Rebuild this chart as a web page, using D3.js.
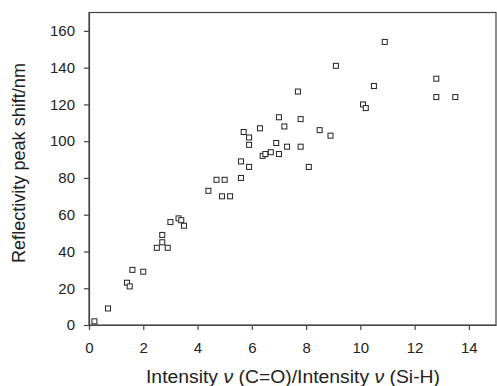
<!DOCTYPE html>
<html>
<head>
<meta charset="utf-8">
<script src="https://cdn.jsdelivr.net/npm/d3@7"></script>
<style>
    body { margin: 0; background: #fff; }
    text { font-family: "Liberation Sans", Arial, sans-serif; fill: #222; }
</style>
</head>
<body>
<div id="chart"></div>
<script>
"use strict";

// Intensity ratio nu(C=O)/nu(Si-H)
const ratio = [
    0.2, 0.7, 1.4, 1.5, 1.6, 2.0, 2.5, 2.9, 2.7, 2.7, 3.0, 3.3, 3.4, 3.5,
    4.4, 4.7, 5.0, 4.9, 5.2, 5.6, 5.6, 5.9, 5.7, 5.9, 5.9, 6.3, 6.4, 6.5,
    6.7, 7.0, 7.2, 6.9, 7.0, 7.3, 7.8, 7.8, 8.1, 8.5, 8.9,
    7.7, 9.1, 10.9, 10.5, 10.1, 10.2, 12.8, 12.8, 13.5
];

// Reflectivity peak shift (nm)
const shift = [
    2, 9, 23, 21, 30, 29, 42, 42, 45, 49, 56, 58, 57, 54,
    73, 79, 79, 70, 70, 80, 89, 86, 105, 102, 98, 107, 92, 93,
    94, 113, 108, 99, 93, 97, 97, 112, 86, 106, 103,
    127, 141, 154, 130, 120, 118, 134, 124, 124
];

const xTicks = [0, 2, 4, 6, 8, 10, 12, 14];
const yTicks = [0, 20, 40, 60, 80, 100, 120, 140, 160];

const W = 497, H = 386;
const margin = { top: 12.5, right: 1, bottom: 61, left: 89 };
const width = W - margin.left - margin.right;
const height = H - margin.top - margin.bottom;

const svg = d3.select("#chart")
  .append("svg")
    .attr("width", W)
    .attr("height", H);

const g = svg.append("g")
    .attr("transform", `translate(${margin.left},${margin.top})`);

const x = d3.scaleLinear().domain([0, 15]).range([0, width]);
const y = d3.scaleLinear().domain([0, 170]).range([height, 0]);

// frame
g.append("rect")
    .attr("x", 0).attr("y", 0)
    .attr("width", width).attr("height", height)
    .attr("fill", "none")
    .attr("stroke", "#444")
    .attr("stroke-width", 1.2);

const xAxis = g.append("g")
    .attr("transform", `translate(0,${height})`)
    .call(d3.axisBottom(x).tickValues(xTicks).tickSize(5).tickSizeOuter(0).tickPadding(12));

const yAxis = g.append("g")
    .call(d3.axisLeft(y).tickValues(yTicks).tickSize(5).tickSizeOuter(0).tickPadding(9));

[xAxis, yAxis].forEach(a => {
    a.select(".domain").attr("stroke", "#444").attr("stroke-width", 1.2);
    a.selectAll(".tick line").attr("stroke", "#444").attr("stroke-width", 1.2);
    a.selectAll(".tick text")
        .attr("font-size", 15)
        .attr("font-family", "Liberation Sans, Arial, sans-serif")
        .attr("fill", "#222");
});

// points
const pts = ratio.map((r, i) => ({ r: r, s: shift[i] }));
const S = 5;
g.selectAll(".pt")
    .data(pts)
  .enter().append("rect")
    .attr("class", "pt")
    .attr("x", d => x(d.r) - S / 2)
    .attr("y", d => y(d.s) - S / 2)
    .attr("width", S)
    .attr("height", S)
    .attr("fill", "#fff")
    .attr("stroke", "#222")
    .attr("stroke-width", 1);

// axis titles
const xt = svg.append("text")
    .attr("x", 293)
    .attr("y", 383)
    .attr("text-anchor", "middle")
    .attr("font-size", 17.5)
    .attr("textLength", 294)
    .attr("lengthAdjust", "spacingAndGlyphs");
xt.append("tspan").text("Intensity ");
xt.append("tspan").attr("font-style", "italic").text("ν");
xt.append("tspan").text(" (C=O)/Intensity ");
xt.append("tspan").attr("font-style", "italic").text("ν");
xt.append("tspan").text(" (Si-H)");

svg.append("text")
    .attr("transform", "translate(25,163) rotate(-90)")
    .attr("text-anchor", "middle")
    .attr("font-size", 17.5)
    .attr("textLength", 200)
    .attr("lengthAdjust", "spacingAndGlyphs")
    .text("Reflectivity peak shift/nm");
</script>
</body>
</html>
